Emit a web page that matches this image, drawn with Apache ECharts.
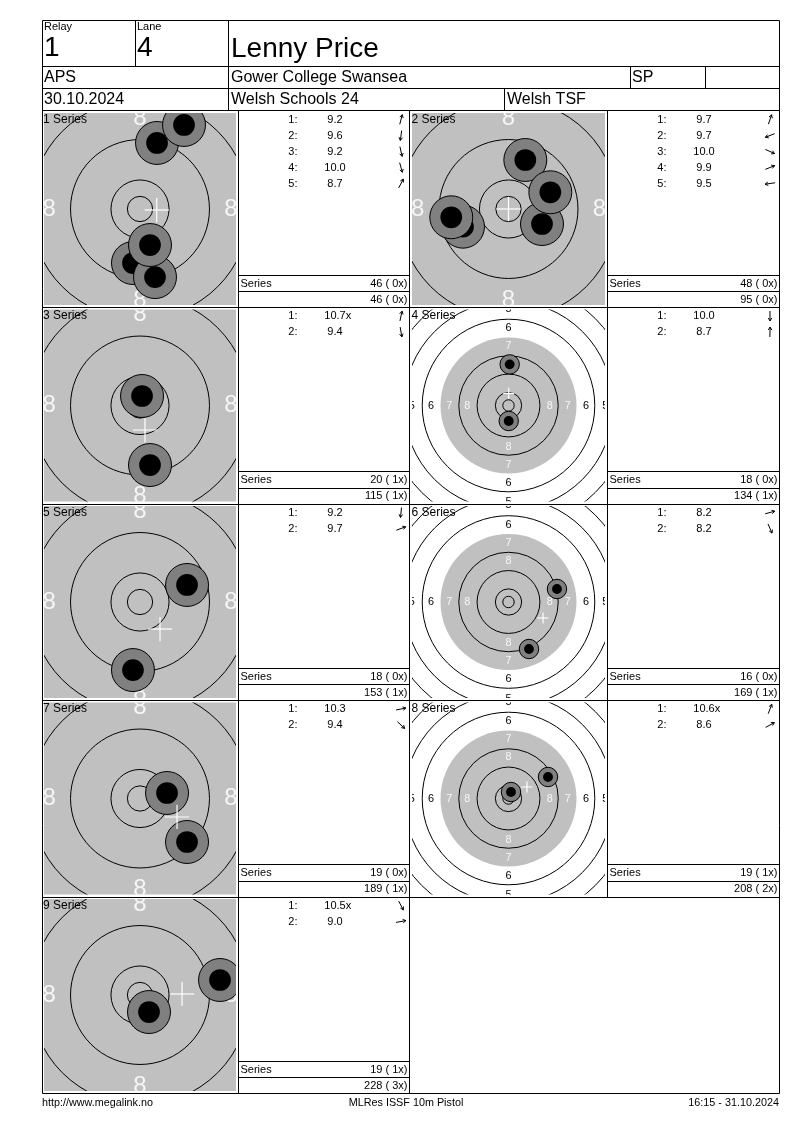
<!DOCTYPE html>
<html><head><meta charset="utf-8">
<script src="https://cdn.jsdelivr.net/npm/echarts@6/dist/echarts.min.js"></script>
<style>html,body{margin:0;padding:0;background:#fff}#c{width:800px;height:1130px}</style>
</head><body><div id="c"></div>
<script>
// ---------------- DATA ----------------
const relayNo = '1';
const laneNo = '4';
const shooterName = 'Lenny Price';
const shooterClass = 'APS';
const clubName = 'Gower College Swansea';
const disciplineCode = 'SP';
const eventDate = '30.10.2024';
const competitionName = 'Welsh Schools 24';
const organiserName = 'Welsh TSF';
const footerLeft = 'http://www.megalink.no';
const footerCentre = 'MLRes ISSF 10m Pistol';
const footerRight = '16:15 - 31.10.2024';

const seriesLabels = ['1 Series','2 Series','3 Series','4 Series','5 Series','6 Series','7 Series','8 Series','9 Series'];
const targetViews = ['zoom','zoom','zoom','wide','zoom','wide','zoom','wide','zoom'];

// shot positions, mm from target centre (x right, y up)
const shotsX = [
  [3.37, -1.39, 2.97, 1.98, 8.71],
  [3.33, -9.01, 6.63, 8.28, -11.33],
  [0.40, 1.98],
  [0.09, 0.52],
  [-1.39, 9.31],
  [21.2, 8.97],
  [5.35, 9.31],
  [1.09, 17.28],
  [1.78, 15.84]
];
const shotsY = [
  [13.07, -10.69, -13.47, -7.13, 16.63],
  [9.70, -3.50, -2.97, 3.31, -1.64],
  [1.88, -11.78],
  [-6.78, 18.0],
  [-13.47, 3.37],
  [5.69, -20.56],
  [1.09, -8.61],
  [2.84, 9.41],
  [-3.37, 2.97]
];
const shotScores = [
  ['9.2','9.6','9.2','10.0','8.7'],
  ['9.7','9.7','10.0','9.9','9.5'],
  ['10.7x','9.4'],
  ['10.0','8.7'],
  ['9.2','9.7'],
  ['8.2','8.2'],
  ['10.3','9.4'],
  ['10.6x','8.6'],
  ['10.5x','9.0']
];
// group centre cross, mm
const groupX = [3.31, 0.0, 0.99, 0.09, 3.96, 15.09, 7.33, 8.09, 8.32];
const groupY = [-0.2, 0.0, -4.85, 5.34, -5.35, -7.0, -3.66, 5.03, 0.2];

const seriesTotals = [46, 48, 20, 18, 18, 16, 19, 19, 19];
const seriesInners = [0, 0, 1, 0, 0, 0, 0, 1, 1];
const runningTotals = [46, 95, 115, 134, 153, 169, 189, 208, 228];
const runningInners = [0, 0, 1, 1, 1, 1, 1, 2, 3];

// ISSF 10m pistol target (radii in mm)
const ringLineRadii = [2.5, 5.75, 13.75, 21.75, 37.75, 45.75, 53.75, 61.75, 69.75];
const aimingBlackRadius = 29.75;
const ringNumberLabels = ['8', '7', '6', '5', '4'];
const ringNumberRadii = [18.0, 25.9, 33.9, 42.3, 50.3];
const shotOuterRadius = 4.25;
const shotInnerRadius = 2.15;
const crossArm = 2.4;

// ---------------- LAYOUT ----------------
const FONT = 'Liberation Sans';
const rowTop = [111, 307.5, 504, 700.5, 897];
const rowBottom = 1093.5;
const tgtLeft = [44, 412.5];
const tblLeft = [238.5, 607.5];
const tblRight = [409.5, 779.5];
const TG = 192;
const halfOf = v => v === 'zoom' ? 19 : 42;

const G = [];
function txt(x, y, s, size, align, color, valign) {
  G.push({type: 'text', x: x, y: y, z: 100, silent: true,
    style: {text: s, fontSize: size, fontFamily: FONT, fill: color || '#000',
      textAlign: align || 'left', textVerticalAlign: valign || 'middle'}});
}
function ln(x1, y1, x2, y2) {
  G.push({type: 'line', z: 100, silent: true, shape: {x1: x1, y1: y1, x2: x2, y2: y2},
    style: {stroke: '#000', lineWidth: 1}});
}
function crisp(v) { return Math.floor(v) + 0.5; }

// header frame
const L = 42.5, R = 779.5;
ln(L, 20.5, R, 20.5); ln(L, 20.5, L, rowBottom); ln(R, 20.5, R, rowBottom); ln(L, rowBottom, R, rowBottom);
ln(L, 66.5, R, 66.5); ln(L, 88.5, R, 88.5); ln(L, 110.5, R, 110.5);
ln(135.5, 20.5, 135.5, 66.5); ln(228.5, 20.5, 228.5, 110.5);
ln(630.5, 66.5, 630.5, 88.5); ln(705.5, 66.5, 705.5, 88.5); ln(504.5, 88.5, 504.5, 110.5);

txt(44, 27, 'Relay', 11); txt(137, 27, 'Lane', 11);
txt(44, 48, relayNo, 28); txt(137, 48, laneNo, 28);
txt(231, 49, shooterName, 28);
txt(44, 77.5, shooterClass, 16); txt(231, 77.5, clubName, 16); txt(632, 77.5, disciplineCode, 16);
txt(44, 99.5, eventDate, 16); txt(231, 99.5, competitionName, 16); txt(507, 99.5, organiserName, 16);

// grid lines
for (let r = 1; r < rowTop.length; r++) ln(L, crisp(rowTop[r]), R, crisp(rowTop[r]));
ln(238.5, 110.5, 238.5, rowBottom);
ln(409.5, 110.5, 409.5, rowBottom);
ln(607.5, 110.5, 607.5, crisp(rowTop[4]));

// footer
txt(42, 1103, footerLeft, 10.8);
txt(406, 1103, footerCentre, 10.8, 'center');
txt(779, 1103, footerRight, 10.8, 'right');

// tables
function arrow(cx, cy, dx, dy) {
  const a = Math.atan2(dy, dx);
  const ux = Math.cos(a), uy = -Math.sin(a);
  const l = 5, h = 3.5;
  const hx = cx + ux * l, hy = cy + uy * l;
  const rot = (t) => [Math.cos(t) * ux - Math.sin(t) * uy, Math.sin(t) * ux + Math.cos(t) * uy];
  const b1 = rot(Math.PI * 5 / 6), b2 = rot(-Math.PI * 5 / 6);
  G.push({type: 'polyline', z: 100, silent: true,
    shape: {points: [[cx - ux * l, cy - uy * l], [hx, hy]]}, style: {stroke: '#000', lineWidth: 1, fill: null}});
  G.push({type: 'polyline', z: 100, silent: true,
    shape: {points: [[hx + b1[0] * h, hy + b1[1] * h], [hx, hy], [hx + b2[0] * h, hy + b2[1] * h]]},
    style: {stroke: '#000', lineWidth: 1, fill: null}});
}
const pad2 = n => (n < 10 ? ' ' : '') + n;
seriesLabels.forEach((lab, i) => {
  const row = Math.floor(i / 2), col = i % 2;
  const top = rowTop[row];
  const tl = tblLeft[col], tr = tblRight[col];
  txt(tgtLeft[col] - 1, top + 8.5, lab, 12);
  shotScores[i].forEach((sc, k) => {
    const y = top + 8.5 + 16 * k;
    txt(tl + 59, y, (k + 1) + ':', 11, 'right');
    const num = sc.replace('x', '');
    txt(tl + 96.5, y, num, 11, 'center');
    if (sc.indexOf('x') >= 0) txt(tl + 96.5 + 10.7, y, 'x', 11, 'left');
    arrow(tl + 162.5, y, shotsX[i][k], shotsY[i][k]);
  });
  ln(tl, crisp(top + 164), tr, crisp(top + 164));
  ln(tl, crisp(top + 180.5), tr, crisp(top + 180.5));
  txt(tl + 2, top + 172.5, 'Series', 11);
  txt(tr - 2, top + 172.5, seriesTotals[i] + ' (' + pad2(seriesInners[i]) + 'x)', 11, 'right');
  txt(tr - 2, top + 188.5, runningTotals[i] + ' (' + pad2(runningInners[i]) + 'x)', 11, 'right');
});

// ---------------- CHART ----------------
const grids = [], xAxes = [], yAxes = [], series = [];
seriesLabels.forEach((lab, i) => {
  const row = Math.floor(i / 2), col = i % 2;
  const half = halfOf(targetViews[i]);
  grids.push({left: tgtLeft[col], top: rowTop[row] + 2, width: TG, height: TG, show: false, containLabel: false});
  xAxes.push({type: 'value', gridIndex: i, min: -half, max: half, show: false});
  yAxes.push({type: 'value', gridIndex: i, min: -half, max: half, show: false});
  const base = {type: 'custom', xAxisIndex: i, yAxisIndex: i, clip: true, silent: true, animation: false};
  // black aiming area (drawn grey)
  series.push(Object.assign({}, base, {
    z: 1, data: [[aimingBlackRadius]],
    renderItem: (p, api) => {
      const c = api.coord([0, 0]);
      return {type: 'circle', shape: {cx: c[0], cy: c[1], r: api.size([api.value(0), 0])[0]},
        style: {fill: '#c0c0c0', stroke: null}};
    }
  }));
  // ring lines
  series.push(Object.assign({}, base, {
    z: 2, data: ringLineRadii.map(r => [r]),
    renderItem: (p, api) => {
      const c = api.coord([0, 0]);
      return {type: 'circle', shape: {cx: c[0], cy: c[1], r: api.size([api.value(0), 0])[0]},
        style: {fill: null, stroke: '#000', lineWidth: 1}};
    }
  }));
  // ring numbers
  series.push(Object.assign({}, base, {
    z: 3, data: ringNumberRadii.map((r, k) => [r, k]),
    renderItem: (p, api) => {
      const c = api.coord([0, 0]);
      const rr = api.value(0);
      const d = api.size([rr, 0])[0];
      const fs = api.size([4.75, 0])[0];
      const label = ringNumberLabels[api.value(1)];
      const fill = rr < aimingBlackRadius ? '#f6f6f6' : '#000';
      const pts = [[c[0] - d, c[1]], [c[0] + d, c[1]], [c[0], c[1] - d], [c[0], c[1] + d]];
      return {type: 'group', children: pts.map(q => ({type: 'text', x: q[0], y: q[1],
        style: {text: label, fontSize: fs, fontFamily: FONT, fill: fill, textAlign: 'center', textVerticalAlign: 'middle'}}))};
    }
  }));
  // shots
  series.push(Object.assign({}, base, {
    z: 4, data: shotsX[i].map((x, k) => [x, shotsY[i][k]]),
    renderItem: (p, api) => {
      const c = api.coord([api.value(0), api.value(1)]);
      const ro = api.size([shotOuterRadius, 0])[0], ri = api.size([shotInnerRadius, 0])[0];
      return {type: 'group', children: [
        {type: 'circle', shape: {cx: c[0], cy: c[1], r: ro}, style: {fill: '#808080', stroke: '#000', lineWidth: 1}},
        {type: 'circle', shape: {cx: c[0], cy: c[1], r: ri}, style: {fill: '#000', stroke: null}}
      ]};
    }
  }));
  // group centre cross
  series.push(Object.assign({}, base, {
    z: 5, data: [[groupX[i], groupY[i]]],
    renderItem: (p, api) => {
      const c = api.coord([api.value(0), api.value(1)]);
      const a = api.size([crossArm, 0])[0];
      return {type: 'group', children: [
        {type: 'line', shape: {x1: c[0] - a, y1: c[1], x2: c[0] + a, y2: c[1]}, style: {stroke: '#fff', lineWidth: 1.2}},
        {type: 'line', shape: {x1: c[0], y1: c[1] - a, x2: c[0], y2: c[1] + a}, style: {stroke: '#fff', lineWidth: 1.2}}
      ]};
    }
  }));
});

const chart = echarts.init(document.getElementById('c'), null, {renderer: 'canvas', width: 800, height: 1130});
chart.setOption({
  animation: false,
  backgroundColor: '#fff',
  grid: grids, xAxis: xAxes, yAxis: yAxes, series: series,
  graphic: {elements: G}
});
</script></body></html>
